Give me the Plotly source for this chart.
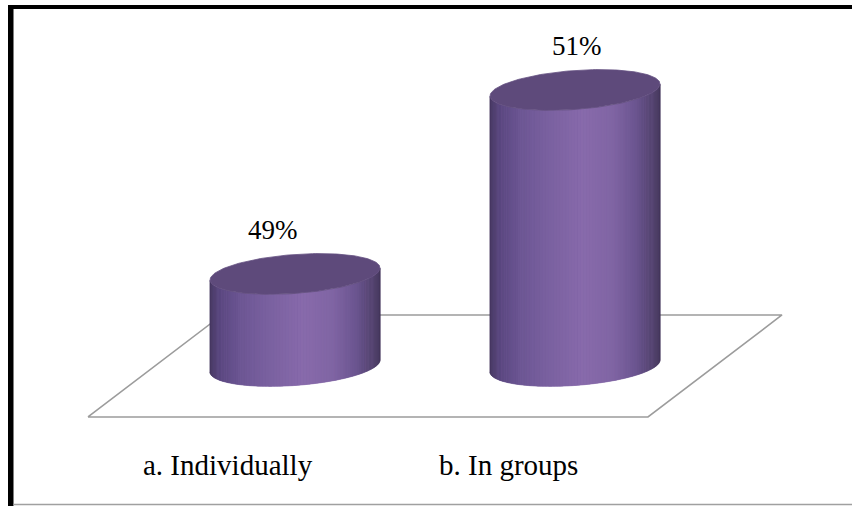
import numpy as np
import plotly.graph_objects as go

# ---- data ----
categories = ["a. Individually", "b. In groups"]
shares = [49, 51]                 # percent of respondents
value_labels = ["49%", "51%"]
axis_floor = 48                   # minimum of the value axis (floor of the 3-D plot)

# ---- styling / geometry (axis units) ----
W, H = 852, 506
X_RANGE = [-1.0536, 1.9893]       # category axis
Y_RANGE = [46.478, 51.978]        # value axis
RAD_X = 0.3036                    # cylinder half-width (category units)
RAD_Y = 0.212                     # ellipse half-height (value units)
TILT = 0.065                      # right side of each ellipse sits slightly higher
DEPTH = (0.2393, 0.5543)          # half depth of the floor, projected
FLOOR_LINE = "#9c9c9c"
TOP_COLOR = "#5e4a7b"
BODY_STOPS = [(0.00, "#45375f"), (0.06, "#5a4780"), (0.18, "#6c5693"),
              (0.35, "#7a61a0"), (0.55, "#886aab"), (0.72, "#8065a4"),
              (0.86, "#6a548f"), (0.95, "#54446f"), (1.00, "#44365a")]
label_dx = [-22, 2]               # pixel nudges of the value labels
FONT = "Liberation Serif, Times New Roman, serif"


def hex_rgb(h):
    h = h.lstrip("#")
    return np.array([int(h[i:i + 2], 16) for i in (0, 2, 4)], dtype=float)


def body_color(f):
    for (f0, c0), (f1, c1) in zip(BODY_STOPS[:-1], BODY_STOPS[1:]):
        if f <= f1:
            t = 0 if f1 == f0 else (f - f0) / (f1 - f0)
            c = hex_rgb(c0) * (1 - t) + hex_rgb(c1) * t
            return "rgb(%d,%d,%d)" % tuple(np.round(c))
    return BODY_STOPS[-1][1]


def front_arc(cx, cy, xs):
    u = np.clip((xs - cx) / RAD_X, -1, 1)
    return cy - RAD_Y * np.sqrt(1 - u ** 2) + TILT * u


fig = go.Figure()

# floor of the 3-D plot area
dx, dy = DEPTH
n = len(categories)
fx = [-0.5 - dx, n - 0.5 - dx, n - 0.5 + dx, -0.5 + dx, -0.5 - dx]
fy = [axis_floor - dy, axis_floor - dy, axis_floor + dy, axis_floor + dy, axis_floor - dy]
fig.add_trace(go.Scatter(x=fx, y=fy, mode="lines",
                         line=dict(color=FLOOR_LINE, width=1.6),
                         hoverinfo="skip", showlegend=False))

# cylinders
NSTRIP = 90
for i, v in enumerate(shares):
    cx = i
    edges = cx - RAD_X + 2 * RAD_X * (1 - np.cos(np.linspace(0, np.pi, NSTRIP + 1))) / 2
    # base body in mid tone so strip seams stay invisible
    xs = np.linspace(cx - RAD_X, cx + RAD_X, 121)
    bx = np.concatenate([xs, xs[::-1]])
    by = np.concatenate([front_arc(cx, axis_floor, xs), front_arc(cx, v, xs[::-1])])
    fig.add_trace(go.Scatter(x=bx, y=by, fill="toself", mode="none",
                             fillcolor=body_color(0.5), hoverinfo="skip", showlegend=False))
    for k in range(NSTRIP):
        x1, x2 = edges[k], edges[k + 1]
        seg = np.linspace(x1, x2, 3)
        px = np.concatenate([seg, seg[::-1]])
        py = np.concatenate([front_arc(cx, axis_floor, seg), front_arc(cx, v, seg[::-1])])
        f = ((x1 + x2) / 2 - (cx - RAD_X)) / (2 * RAD_X)
        fig.add_trace(go.Scatter(x=px, y=py, fill="toself", mode="lines",
                                 line=dict(width=0.6, color=body_color(f)),
                                 fillcolor=body_color(f), hoverinfo="skip", showlegend=False))
    # top face
    t = np.linspace(0, 2 * np.pi, 181)
    tx = cx + RAD_X * np.cos(t)
    ty = v + RAD_Y * np.sin(t) + TILT * np.cos(t)
    fig.add_trace(go.Scatter(x=tx, y=ty, fill="toself", mode="lines",
                             line=dict(width=0.8, color="#645082"),
                             fillcolor=TOP_COLOR, hoverinfo="skip", showlegend=False))

annotations = []
for i, (v, lab) in enumerate(zip(shares, value_labels)):
    annotations.append(dict(x=i, y=v, xref="x", yref="y", text=lab, showarrow=False,
                            xshift=label_dx[i], yshift=44,
                            font=dict(family=FONT, size=27, color="black")))
for i, cat in enumerate(categories):
    annotations.append(dict(x=i - dx, y=axis_floor - dy, xref="x", yref="y", text=cat,
                            showarrow=False, yshift=-48,
                            font=dict(family=FONT, size=29, color="black")))

# frame around the chart
shapes = [
    dict(type="rect", xref="paper", yref="paper", x0=8 / W, x1=1, y0=1 - 9 / H, y1=1 - 5 / H,
         fillcolor="black", line=dict(width=0)),
    dict(type="rect", xref="paper", yref="paper", x0=8 / W, x1=13.5 / W, y0=0, y1=1 - 5 / H,
         fillcolor="black", line=dict(width=0)),
    dict(type="line", xref="paper", yref="paper", x0=13.5 / W, x1=1, y0=1.5 / H, y1=1.5 / H,
         line=dict(color="#a0a0a0", width=1.5)),
]

fig.update_layout(
    width=W, height=H, margin=dict(l=0, r=0, t=0, b=0),
    paper_bgcolor="white", plot_bgcolor="white",
    xaxis=dict(range=X_RANGE, visible=False, fixedrange=True),
    yaxis=dict(range=Y_RANGE, visible=False, fixedrange=True),
    annotations=annotations, shapes=shapes, showlegend=False,
)

fig.write_html("out.html")
